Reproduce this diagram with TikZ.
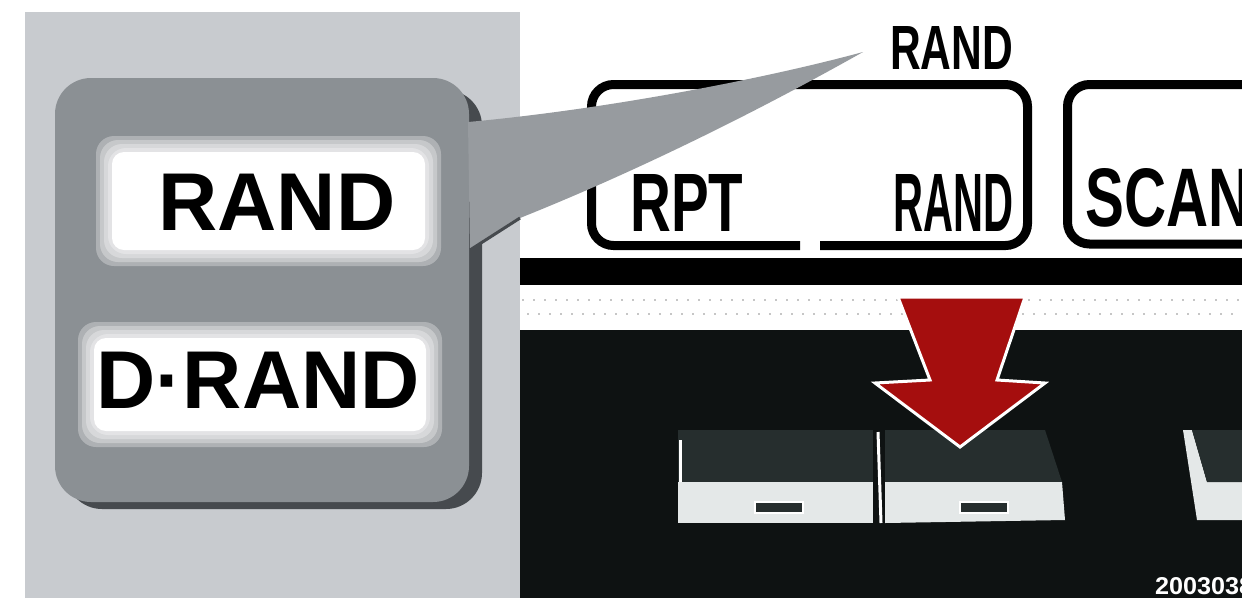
\documentclass[tikz,border=0pt]{standalone}
\usepackage{fontspec}
\setmainfont{Liberation Sans}
\usepackage{graphicx}
\usepackage{xcolor}
\usetikzlibrary{positioning}
\definecolor{texgray}{RGB}{200,203,207}
\definecolor{keygray}{RGB}{139,144,148}
\definecolor{keyshade}{RGB}{70,74,78}
\definecolor{darkface}{RGB}{14,18,18}
\definecolor{btntop}{RGB}{38,46,46}
\definecolor{btnlit}{RGB}{228,232,232}
\definecolor{arrowred}{RGB}{165,14,14}
\newcommand{\squeeze}[3]{\resizebox{#1pt}{#2pt}{\bfseries #3}}

\begin{document}
\begin{tikzpicture}[x=1pt, y=-1pt,
    keylabel/.style={inner sep=0pt, font=\fontsize{82}{82}\selectfont\bfseries},
    panellabel/.style={inner sep=0pt, anchor=south west},
    outline/.style={line width=9pt, rounded corners=22pt},
    btndark/.style={fill=btntop},
    btnlight/.style={fill=btnlit},
    slotbox/.style={fill=btntop, draw=white, line width=1.5pt},
]
\useasboundingbox (0,0) rectangle (1242,598);
\fill[white] (0,0) rectangle (1242,598);

% textured backing
\fill[texgray] (25,12) rectangle (520,598);

% enlarged key
\fill[keyshade, rounded corners=36pt] (66,90) rectangle (482,509);
\fill[keygray, rounded corners=36pt] (55,78) rectangle (469,502);

\foreach \d in {0,4,8,12} {
  \fill[white, opacity=0.3, rounded corners=18pt] (96+\d,136+\d) rectangle (441-\d,266-\d);
  \fill[white, opacity=0.3, rounded corners=18pt] (78+\d,322+\d) rectangle (442-\d,447-\d);
}
\fill[white, rounded corners=12pt] (112,152) rectangle (425,250);
\fill[white, rounded corners=12pt] (94,338) rectangle (426,431);

\node[keylabel] (randkey) at (277,202) {RAND};
\node[keylabel] (drandkey) at (258,380) {D·RAND};

% panel of the unit
\fill[black] (520,258) rectangle (1242,285);
\draw[gray!45, line width=1.5pt, dash pattern=on 2pt off 9pt] (522,300) -- (1242,300);
\draw[gray!45, line width=1.5pt, dash pattern=on 2pt off 9pt] (527,314) -- (1242,314);
\fill[darkface] (520,330) rectangle (1242,598);

\draw[outline] (820,245.5) -| (1027.5,84.5) -| (591.5,245.5) -- (800,245.5);
\draw[outline] (1270,84.5) -- (1067.5,84.5) -- (1067.5,244) -- (1270,244);

\node[panellabel] (randtop) at (890,70) {\squeeze{123}{43}{RAND}};
\node[panellabel] (rpt) at (630,232) {\squeeze{113}{57}{RPT}};
\node[panellabel] (randbtn) at (893,232) {\squeeze{120}{57}{RAND}};
\node[panellabel] (scan) at (1085,228) {\squeeze{165}{58}{SCAN}};

% callout wedge
\fill[keygray!90!white] (468,122) .. controls (600,110) and (760,80) .. (863,52)
    .. controls (760,110) and (640,170) .. (520,218) -- (470,250) -- cycle;
\draw[keyshade, line width=3pt] (470,250) -- (520,218);

% buttons
\fill[btndark] (678,430) rectangle (873,482);
\fill[btnlight] (678,482) rectangle (873,523);
\draw[white, line width=3pt] (680,440) -- (680,482);
\draw[slotbox] (755,502) rectangle (803,513);
\draw[white, line width=3pt] (878,432) -- (881,523);
\fill[btndark] (885,430) -- (1045,430) -- (1062,482) -- (885,482) -- cycle;
\fill[btnlight] (885,482) -- (1062,482) -- (1065,520) -- (885,523) -- cycle;
\draw[slotbox] (960,502) rectangle (1008,513);
\fill[btnlight] (1183,430) -- (1192,430) -- (1207,482) -- (1242,482) -- (1242,520) -- (1197,520) -- cycle;
\fill[btndark] (1192,430) -- (1242,430) -- (1242,482) -- (1207,482) -- cycle;

% press arrow
\filldraw[fill=arrowred, draw=white, line width=3pt, line join=miter]
    (898,297) -- (1025,297) -- (997,380) -- (1045,383) -- (960,447)
    -- (875,383) -- (930,380) -- cycle;

\node[panellabel, text=white] (imgcode) at (1155,595) {\squeeze{98}{17}{2003038}};
\end{tikzpicture}
\end{document}
